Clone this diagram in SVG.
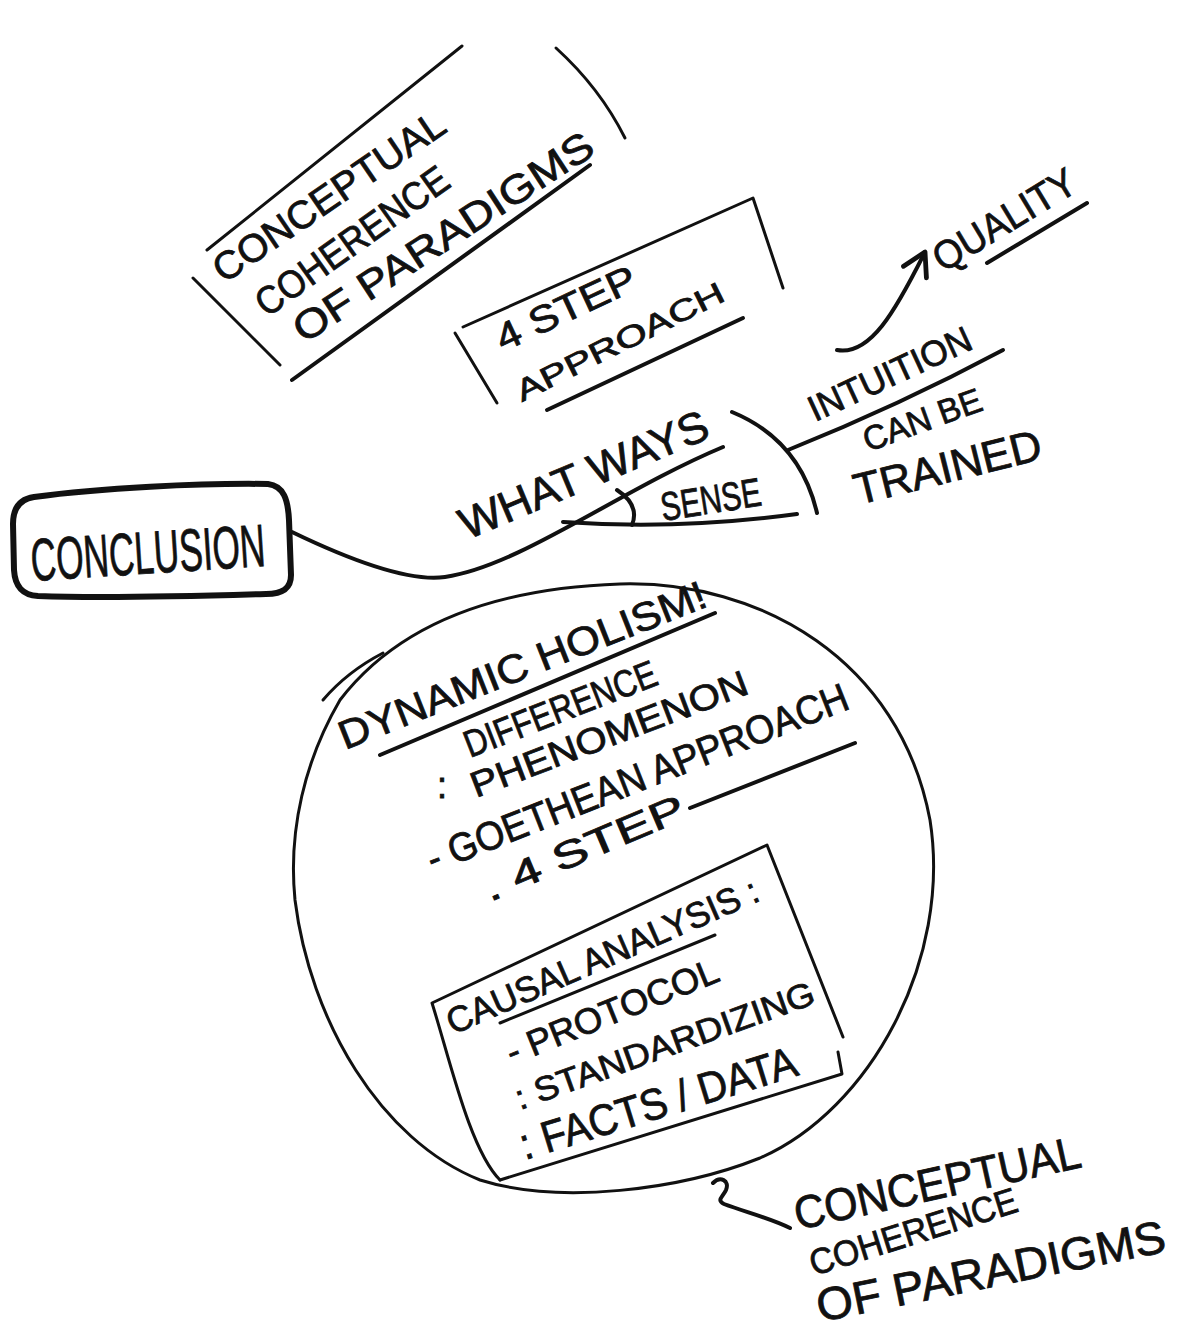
<svg xmlns="http://www.w3.org/2000/svg" width="1180" height="1334" viewBox="0 0 1180 1334">
<style>
.t{font-family:"Liberation Sans","DejaVu Sans",sans-serif;fill:#111;stroke:#111;stroke-width:0.8}
.ln{fill:none;stroke:#111;stroke-width:4;stroke-linecap:round;stroke-linejoin:round}
.thin{fill:none;stroke:#111;stroke-width:3;stroke-linecap:round;stroke-linejoin:round}
.thick{fill:none;stroke:#111;stroke-width:6;stroke-linecap:round;stroke-linejoin:round}
</style>
<defs>
<marker id="ah" viewBox="0 0 20 20" refX="16" refY="10" markerWidth="8" markerHeight="8" orient="auto" markerUnits="strokeWidth">
<path d="M2,2 L16,10 L2,18" fill="none" stroke="#111" stroke-width="3" stroke-linecap="round" stroke-linejoin="round"/>
</marker>
</defs>
<rect width="1180" height="1334" fill="#ffffff"/>

<g id="connectors">
<path class="ln" d="M292,532 C350,560 410,582 445,577 C520,566 620,490 723,447"/>
<path class="ln" d="M563,522 Q680,530 797,514"/>
<path class="ln" d="M617,490 Q640,505 632,525"/>
<path class="ln" d="M732,412 Q800,440 817,513"/>
<path class="ln" d="M788,450 Q900,405 1003,350"/>
<path class="ln" d="M837,350 C870,356 895,312 925,252" marker-end="url(#ah)"/>
<path class="ln" d="M713,1183 C720,1176 730,1180 726,1190 C723,1197 716,1200 724,1204 C745,1212 770,1218 790,1228"/>
</g>

<g id="node-coherence-top">
<path class="thin" d="M193,278 L280,365"/>
<path class="thin" d="M207,250 L462,46"/>
<path class="thin" d="M556,48 Q600,88 625,138"/>
<path class="ln" d="M292,380 L590,165"/>
<text class="t" font-size="39" transform="translate(224 284) rotate(-34.3)" textLength="272" lengthAdjust="spacingAndGlyphs">CONCEPTUAL</text>
<text class="t" font-size="39" transform="translate(267 318) rotate(-35.5)" textLength="228" lengthAdjust="spacingAndGlyphs">COHERENCE</text>
<text class="t" font-size="40" transform="translate(304 344) rotate(-33.1)" textLength="350" lengthAdjust="spacingAndGlyphs">OF PARADIGMS</text>
</g>

<g id="node-4step">
<path class="thin" d="M455,333 L497,403"/>
<path class="thin" d="M463,327 L753,198 L783,288"/>
<path class="ln" d="M547,410 L743,318"/>
<text class="t" font-size="38" transform="translate(503 352) rotate(-25)" textLength="151" lengthAdjust="spacingAndGlyphs">4 STEP</text>
<text class="t" font-size="30" transform="translate(522 402) rotate(-26.5)" textLength="229" lengthAdjust="spacingAndGlyphs">APPROACH</text>
</g>

<g id="node-quality">
<text class="t" font-size="40" transform="translate(943 273) rotate(-31.2)" textLength="160" lengthAdjust="spacingAndGlyphs">QUALITY</text>
<path class="ln" d="M987,263 L1087,203"/>
</g>

<g id="node-intuition">
<text class="t" font-size="36" transform="translate(815 422) rotate(-24.8)" textLength="176" lengthAdjust="spacingAndGlyphs">INTUITION</text>
</g>

<g id="node-trained">
<text class="t" font-size="34" transform="translate(868 452) rotate(-20)" textLength="124" lengthAdjust="spacingAndGlyphs">CAN BE</text>
<text class="t" font-size="44" transform="translate(858 505) rotate(-14)" textLength="192" lengthAdjust="spacingAndGlyphs">TRAINED</text>
</g>

<g id="node-whatways">
<text class="t" font-size="44" transform="translate(467 540) rotate(-22.8)" textLength="266" lengthAdjust="spacingAndGlyphs">WHAT WAYS</text>
</g>

<g id="node-sense">
<text class="t" font-size="40" transform="translate(663 521) rotate(-9)" textLength="101" lengthAdjust="spacingAndGlyphs">SENSE</text>
</g>

<g id="node-conclusion">
<path class="thick" d="M34,497 C100,488 200,483 268,484 C284,486 288,500 289,520 L291,575 C291,589 282,594 266,594 C200,596 90,598 38,596 C22,595 15,586 14,570 L13,524 C13,508 20,499 34,497 Z"/>
<text class="t" font-size="60" transform="translate(32 581) rotate(-3.7)" textLength="235" lengthAdjust="spacingAndGlyphs">CONCLUSION</text>
</g>

<g id="node-dynamic">
<path class="thin" d="M340,700 C400,622 500,588 620,584 C760,580 900,660 930,820 C952,960 870,1110 760,1158 C680,1190 560,1205 480,1180 C380,1140 310,1020 295,900 C288,830 305,760 340,700 Z"/>
<path class="thin" d="M323,700 C340,680 360,665 383,653"/>
<text class="t" font-size="40" transform="translate(345 750) rotate(-21.6)" textLength="392" lengthAdjust="spacingAndGlyphs">DYNAMIC HOLISM!</text>
<path class="ln" d="M380,755 L715,613"/>
<text class="t" font-size="36" x="437" y="798">:</text>
<text class="t" font-size="38" transform="translate(470 758) rotate(-21.3)" textLength="204" lengthAdjust="spacingAndGlyphs">DIFFERENCE</text>
<text class="t" font-size="36" transform="translate(476 798) rotate(-20.9)" textLength="294" lengthAdjust="spacingAndGlyphs">PHENOMENON</text>
<text class="t" font-size="40" transform="translate(433 873) rotate(-21.5)" textLength="450" lengthAdjust="spacingAndGlyphs">- GOETHEAN APPROACH</text>
<text class="t" font-size="38" transform="translate(490 902) rotate(-23)" textLength="215" lengthAdjust="spacingAndGlyphs">. 4 STEP</text>
<path class="ln" d="M690,808 L855,743"/>
</g>

<g id="node-causal">
<path class="thin" d="M500,1180 C470,1150 450,1060 432,1003 L767,845 L843,1037"/>
<path class="thin" d="M838,1052 L842,1074 L500,1180"/>
<text class="t" font-size="36" transform="translate(453 1035) rotate(-23.6)" textLength="337" lengthAdjust="spacingAndGlyphs">CAUSAL ANALYSIS :</text>
<path class="thin" d="M500,1023 L715,935"/>
<text class="t" font-size="36" transform="translate(512 1065) rotate(-22)" textLength="226" lengthAdjust="spacingAndGlyphs">- PROTOCOL</text>
<text class="t" font-size="34" transform="translate(520 1110) rotate(-19.8)" textLength="316" lengthAdjust="spacingAndGlyphs">: STANDARDIZING</text>
<text class="t" font-size="44" transform="translate(525 1160) rotate(-17.2)" textLength="288" lengthAdjust="spacingAndGlyphs">: FACTS / DATA</text>
</g>

<g id="node-coherence-bottom">
<text class="t" font-size="46" transform="translate(798 1230) rotate(-12.5)" textLength="292" lengthAdjust="spacingAndGlyphs">CONCEPTUAL</text>
<text class="t" font-size="36" transform="translate(814 1276) rotate(-17.5)" textLength="216" lengthAdjust="spacingAndGlyphs">COHERENCE</text>
<text class="t" font-size="46" transform="translate(820 1322) rotate(-11.5)" textLength="355" lengthAdjust="spacingAndGlyphs">OF PARADIGMS</text>
</g>
</svg>
